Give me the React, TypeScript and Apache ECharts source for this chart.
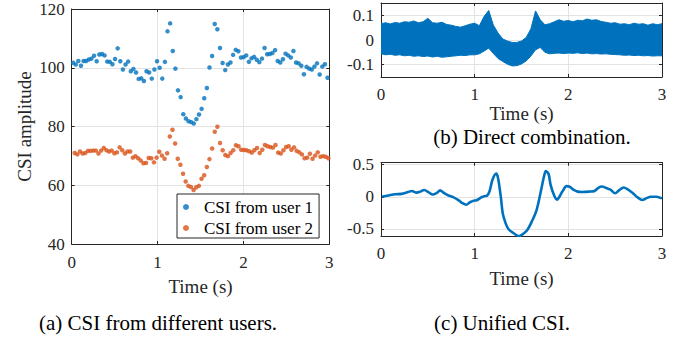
import React, { useEffect, useRef } from "react";
import * as echarts from "echarts";

// ---------- data ----------
// (a) CSI amplitude samples, evenly spaced in time
const user1Start = 0.016;
const user1End = 3.01;
const user1 = [
  101.7, 101.1, 102.3, 100.7, 102.3, 102.3, 102.8, 103.1, 104.1, 102.2,
  104.5, 104.7, 104.2, 102.1, 102.0, 101.2, 103.0, 106.6, 102.2, 99.4,
  101.1, 102.1, 98.8, 99.6, 98.4, 96.2, 96.4, 95.5, 98.8, 98.4,
  96.3, 99.4, 102.2, 100, 96.3, 102, 112.4, 115.1, 105.7, 99.7,
  92.3, 90, 84.2, 82.7, 81.8, 81.5, 81, 82.5, 84.1, 86,
  89.6, 93.1, 100.1, 104, 114.9, 113.1, 106.7, 101.6, 99.2, 101.1,
  101.8, 104.4, 106.1, 105.6, 103.5, 103.6, 104.2, 102, 103.2, 103.7,
  102.7, 101.9, 103.1, 106.7, 104.6, 104.7, 105, 106, 102.3, 101.8,
  102.9, 104.8, 104.2, 103.5, 105.7, 101.8, 101.5, 100.7, 97.8, 100.3,
  99.7, 99.4, 100.4, 101.5, 97.7, 100.4, 101.2, 96.6, 100.1,
];
const user2Start = 0.035;
const user2End = 3.02;
const user2 = [
  71.0, 70.5, 71.5, 70.8, 71, 71.7, 71.7, 71.8, 71.8, 70.8,
  71.8, 72.7, 71.9, 71.5, 71.8, 70.9, 71.2, 72.9, 71.9, 70.8,
  71.5, 71.5, 69.4, 69.9, 69.2, 68.4, 67.5, 67.6, 69.3, 69.2,
  67.8, 69.4, 71.4, 70.1, 69, 70.9, 76.6, 78.9, 74.2, 69,
  67, 63.9, 61.3, 59.8, 59.4, 58.4, 59.3, 59.8, 62.2,
  63.4, 66.2, 68.9, 72.5, 78.2, 79.9, 74.4, 71.9, 70.3, 69.9,
  71, 71.9, 73.6, 73.3, 72.1, 72, 71.9, 71.6, 71.1, 71.9,
  72.7, 71, 72.1, 73.7, 73.3, 73, 72.8, 73.7, 71.1, 70.8,
  71.9, 73, 73.3, 72.1, 72.9, 71.7, 71.2, 70.5, 69.2, 69.4,
  70.7, 69, 70.1, 71.2, 69.7, 69.9, 69.7, 69.2, 69.3,
];

// (b) direct combination: upper / lower envelope of the dense signal, every 0.05 s
const bStep = 0.05;
const bUpper = [
  0.066, 0.070, 0.065, 0.071, 0.068, 0.074, 0.072, 0.077, 0.070, 0.074,
  0.088, 0.070, 0.068, 0.072, 0.063, 0.060, 0.055, 0.052, 0.058, 0.064,
  0.068, 0.058, 0.095, 0.120, 0.060, 0.028, 0.004, -0.004, -0.010, -0.010,
  -0.004, 0.010, 0.045, 0.118, 0.082, 0.062, 0.066, 0.074, 0.082, 0.076,
  0.079, 0.074, 0.080, 0.078, 0.085, 0.080, 0.082, 0.075, 0.072, 0.068,
  0.070, 0.064, 0.066, 0.062, 0.068, 0.064, 0.066, 0.060, 0.066, 0.062, 0.066,
];
const bLower = [
  -0.056, -0.060, -0.058, -0.062, -0.060, -0.064, -0.062, -0.066, -0.064, -0.067,
  -0.065, -0.069, -0.066, -0.070, -0.068, -0.066, -0.064, -0.062, -0.063, -0.060,
  -0.060, -0.056, -0.045, -0.033, -0.055, -0.075, -0.087, -0.098, -0.105, -0.104,
  -0.097, -0.085, -0.065, -0.040, -0.030, -0.050, -0.056, -0.054, -0.053, -0.055,
  -0.053, -0.054, -0.052, -0.055, -0.053, -0.056, -0.055, -0.057, -0.056, -0.058,
  -0.059, -0.060, -0.062, -0.061, -0.063, -0.062, -0.064, -0.063, -0.065, -0.064, -0.064,
];

// (c) unified CSI
const cTime = [
  0.01, 0.08, 0.15, 0.22, 0.29, 0.33, 0.38, 0.42, 0.46, 0.51,
  0.55, 0.60, 0.63, 0.67, 0.72, 0.77, 0.83, 0.87, 0.91, 0.95,
  0.99, 1.02, 1.07, 1.10, 1.13, 1.16, 1.19, 1.23, 1.25, 1.28,
  1.30, 1.33, 1.36, 1.41, 1.45, 1.48, 1.51, 1.56, 1.61, 1.66,
  1.70, 1.74, 1.76, 1.79, 1.81, 1.85, 1.88, 1.90, 1.94, 1.98,
  2.01, 2.05, 2.10, 2.15, 2.22, 2.28, 2.32, 2.36, 2.40, 2.45,
  2.50, 2.54, 2.59, 2.63, 2.69, 2.74, 2.79, 2.83, 2.88, 2.94, 3.0,
];
const cValue = [
  0, 0.02, 0.04, 0.045, 0.075, 0.09, 0.065, 0.08, 0.105, 0.07,
  0.035, 0.065, 0.10, 0.06, 0.02, -0.005, -0.055, -0.10, -0.125, -0.085,
  -0.06, -0.055, -0.01, 0.01, 0.015, 0.09, 0.265, 0.36, 0.29, -0.01,
  -0.26, -0.41, -0.5, -0.56, -0.60, -0.61, -0.585, -0.52, -0.385, -0.21,
  0.04, 0.315, 0.40, 0.35, 0.19, 0.015, -0.045, -0.01, 0.09, 0.165,
  0.16, 0.115, 0.08, 0.075, 0.08, 0.09, 0.14, 0.16, 0.14, 0.11,
  0.055, 0.10, 0.145, 0.12, 0.055, -0.01, -0.05, -0.025, 0, 0, -0.025,
];

const aYTicks = [40, 60, 80, 100, 120];
const bYTicks = [-0.1, 0, 0.1];
const cYTicks = [-0.5, 0, 0.5];

const legendNames = ["CSI from user 1", "CSI from user 2"];
const captions = ["(a) CSI from different users.", "(b) Direct combination.", "(c) Unified CSI."];

// ---------- styles ----------
const FONT = "Liberation Serif";
const AX = "#262626";
const GRIDC = "#e3e3e3";
const BLUE = "#0072BD";
const ORANGE = "#D95319";

function evenly(vals: number[], t0: number, t1: number) {
  const n = vals.length;
  return vals.map((v, i) => [t0 + (i * (t1 - t0)) / (n - 1), v]);
}

function xPair(gridIndex: number, labelMargin: number, nameGap: number) {
  const base = {
    gridIndex,
    type: "value",
    min: 0,
    max: 3,
    interval: 1,
  };
  return [
    {
      ...base,
      position: "bottom",
      name: "Time (s)",
      nameLocation: "middle",
      nameGap,
      nameTextStyle: { fontFamily: FONT, fontSize: 19, color: AX },
      axisLine: { show: true, onZero: false, lineStyle: { color: AX, width: 1 } },
      axisTick: { show: true, inside: true, length: 3, lineStyle: { color: AX } },
      axisLabel: {
        fontFamily: FONT,
        fontSize: 17,
        color: AX,
        margin: labelMargin,
        showMinLabel: true,
        showMaxLabel: true,
      },
      splitLine: { show: true, lineStyle: { color: GRIDC, width: 1 } },
    },
    {
      ...base,
      position: "top",
      axisLine: { show: true, onZero: false, lineStyle: { color: AX, width: 1 } },
      axisTick: { show: true, inside: true, length: 3, lineStyle: { color: AX } },
      axisLabel: { show: false },
      splitLine: { show: false },
    },
  ];
}

function yPair(gridIndex: number, min: number, max: number, ticks: number[], extra: any) {
  const base = { gridIndex, type: "value", min, max };
  return [
    {
      ...base,
      position: "left",
      ...extra,
      axisLine: { show: true, onZero: false, lineStyle: { color: AX, width: 1 } },
      axisTick: { show: true, inside: true, length: 3, lineStyle: { color: AX }, customValues: ticks },
      axisLabel: {
        fontFamily: FONT,
        fontSize: 17,
        color: AX,
        margin: 7,
        customValues: ticks,
        showMinLabel: true,
        showMaxLabel: true,
      },
      splitLine: { show: true, lineStyle: { color: GRIDC, width: 1 } },
    },
    {
      ...base,
      position: "right",
      axisLine: { show: true, onZero: false, lineStyle: { color: AX, width: 1 } },
      axisTick: { show: true, inside: true, length: 3, lineStyle: { color: AX }, customValues: ticks },
      axisLabel: { show: false },
      splitLine: { show: false },
    },
  ];
}

export default function App() {
  const ref = useRef<HTMLDivElement>(null);

  useEffect(() => {
    if (!ref.current) return;
    const chart = echarts.init(ref.current, undefined, { renderer: "svg" });

    const bTimes = bUpper.map((_, i) => i * bStep);
    const cData = cValue.map((v, i) => [cTime[i], v]);

    const captionStyle = (text: string) => ({
      text,
      fontFamily: FONT,
      fontSize: 21,
      fill: "#000",
      align: "center",
      verticalAlign: "middle",
      textAlign: "center",
      textVerticalAlign: "middle",
    });

    chart.setOption({
      animation: false,
      backgroundColor: "#fff",
      textStyle: { fontFamily: FONT },
      grid: [
        { left: 71.7, top: 9, width: 257.6, height: 235 },
        { left: 381, top: 3, width: 281, height: 74 },
        { left: 381, top: 162.7, width: 281, height: 73.3 },
      ],
      xAxis: [...xPair(0, 10, 33), ...xPair(1, 9, 27), ...xPair(2, 9, 33)],
      yAxis: [
        ...yPair(0, 40, 120, aYTicks, {
          name: "CSI amplitude",
          nameLocation: "middle",
          nameRotate: 90,
          nameGap: 38,
          nameTextStyle: { fontFamily: FONT, fontSize: 19, color: AX },
        }),
        ...yPair(1, -0.15, 0.15, bYTicks, {}),
        ...yPair(2, -0.61, 0.53, cYTicks, {}),
      ],
      legend: {
        data: legendNames,
        orient: "vertical",
        left: 177,
        top: 194,
        padding: [4, 6, 1, 6],
        itemGap: 3,
        itemWidth: 26,
        itemHeight: 6,
        icon: "circle",
        selectedMode: false,
        borderColor: AX,
        borderWidth: 1,
        backgroundColor: "#fff",
        textStyle: { fontFamily: FONT, fontSize: 17, color: "#000", lineHeight: 18 },
      },
      series: [
        {
          name: legendNames[0],
          type: "scatter",
          xAxisIndex: 0,
          yAxisIndex: 0,
          data: evenly(user1, user1Start, user1End),
          symbolSize: 4.5,
          itemStyle: { color: BLUE },
        },
        {
          name: legendNames[1],
          type: "scatter",
          xAxisIndex: 0,
          yAxisIndex: 0,
          data: evenly(user2, user2Start, user2End),
          symbolSize: 4.5,
          itemStyle: { color: ORANGE },
        },
        {
          name: "band",
          type: "custom",
          xAxisIndex: 2,
          yAxisIndex: 2,
          data: [[0, 0]],
          clip: true,
          renderItem: (_params: any, api: any) => {
            const pts: number[][] = [];
            bUpper.forEach((v, i) => pts.push(api.coord([bTimes[i], v])));
            for (let i = bLower.length - 1; i >= 0; i--) {
              pts.push(api.coord([bTimes[i], bLower[i]]));
            }
            return {
              type: "polygon",
              shape: { points: pts },
              style: { fill: BLUE, stroke: BLUE, lineWidth: 1 },
            };
          },
        },
        {
          name: "unified",
          type: "line",
          xAxisIndex: 4,
          yAxisIndex: 4,
          data: cData,
          symbol: "none",
          smooth: 0.3,
          lineStyle: { color: BLUE, width: 2.6 },
        },
      ],
      graphic: [
        { type: "text", x: 158, y: 323, style: captionStyle(captions[0]) },
        { type: "text", x: 532, y: 137, style: captionStyle(captions[1]) },
        { type: "text", x: 502, y: 323, style: captionStyle(captions[2]) },
      ],
    });

    return () => chart.dispose();
  }, []);

  return (
    <div
      ref={ref}
      style={{ position: "fixed", left: 0, top: 0, width: 683, height: 341 }}
    />
  );
}
